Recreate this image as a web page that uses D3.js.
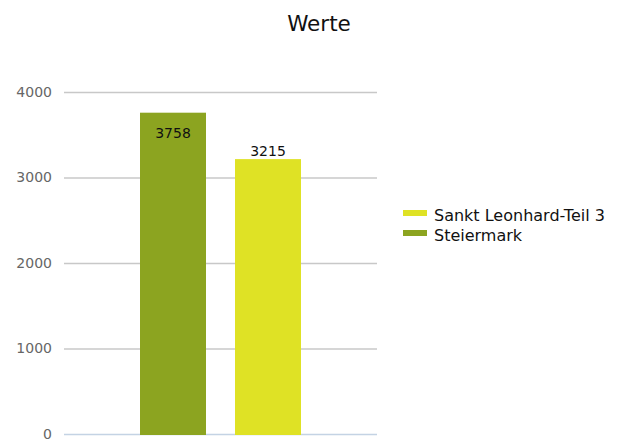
<!DOCTYPE html>
<html lang="de">
<head>
<meta charset="UTF-8">
<title>Werte</title>
<style>
  body { margin: 0; background: #fff; }
  text { font-family: 'DejaVu Sans', sans-serif; }
</style>
</head>
<body>
<svg id="svg" width="622" height="441"></svg>
<script src="https://d3js.org/d3.v7.min.js"></script>
<script>
  // data
  const seriesNames = ['Steiermark', 'Sankt Leonhard-Teil 3']
  const seriesValues = [3758, 3215]
  const seriesColors = ['#8ca420', '#dfe225']
  const legendOrder = ['Sankt Leonhard-Teil 3', 'Steiermark']
  const yTicks = [0, 1000, 2000, 3000, 4000]

  const svg = d3.select('#svg')

  const plot = { left: 64, right: 377, top: 92, bottom: 434 }

  const y = d3.scaleLinear().domain([0, 4000]).range([plot.bottom, plot.top])
  const x = d3.scaleBand()
    .domain(seriesNames)
    .range([140, 301])
    .paddingInner(29 / 95)
    .paddingOuter(0)

  const color = d3.scaleOrdinal().domain(seriesNames).range(seriesColors)

  // title
  svg.append('text')
    .attr('x', 319).attr('y', 31)
    .attr('text-anchor', 'middle')
    .attr('font-size', 21.5)
    .attr('fill', '#111')
    .text('Werte')

  // gridlines
  svg.append('g')
    .selectAll('line')
    .data(yTicks)
    .join('line')
    .attr('x1', plot.left).attr('x2', plot.right)
    .attr('y1', d => y(d) + 0.5).attr('y2', d => y(d) + 0.5)
    .attr('stroke', d => d === 0 ? '#c4d3e4' : '#c8c8c8')
    .attr('stroke-width', 1.5)

  // y axis labels
  const yAxis = d3.axisLeft(y).tickValues(yTicks).tickFormat(d3.format('d')).tickSize(0).tickPadding(0)
  const ya = svg.append('g').attr('transform', 'translate(52,0)').call(yAxis)
  ya.select('.domain').remove()
  ya.selectAll('text')
    .attr('font-family', 'DejaVu Sans, sans-serif')
    .attr('font-size', 14)
    .attr('fill', '#666')

  // bars
  svg.append('g')
    .selectAll('rect')
    .data(seriesNames)
    .join('rect')
    .attr('x', d => x(d))
    .attr('width', x.bandwidth())
    .attr('y', (d, i) => y(seriesValues[i]))
    .attr('height', (d, i) => plot.bottom - y(seriesValues[i]) + 1)
    .attr('fill', d => color(d))

  // value labels
  svg.append('g')
    .selectAll('text')
    .data(seriesNames)
    .join('text')
    .attr('x', d => x(d) + x.bandwidth() / 2)
    .attr('y', (d, i) => i === 0 ? y(seriesValues[i]) + 25 : y(seriesValues[i]) - 3)
    .attr('text-anchor', 'middle')
    .attr('font-size', 14)
    .attr('fill', '#111')
    .text((d, i) => seriesValues[i])

  // legend
  const legend = svg.append('g')
    .selectAll('g')
    .data(legendOrder)
    .join('g')
    .attr('transform', (d, i) => `translate(403, ${210 + i * 20})`)

  legend.append('rect')
    .attr('width', 24).attr('height', 6)
    .attr('fill', d => color(d))

  legend.append('text')
    .attr('x', 31).attr('y', 10.5)
    .attr('font-size', 16)
    .attr('fill', '#111')
    .text(d => d)
</script>
</body>
</html>
